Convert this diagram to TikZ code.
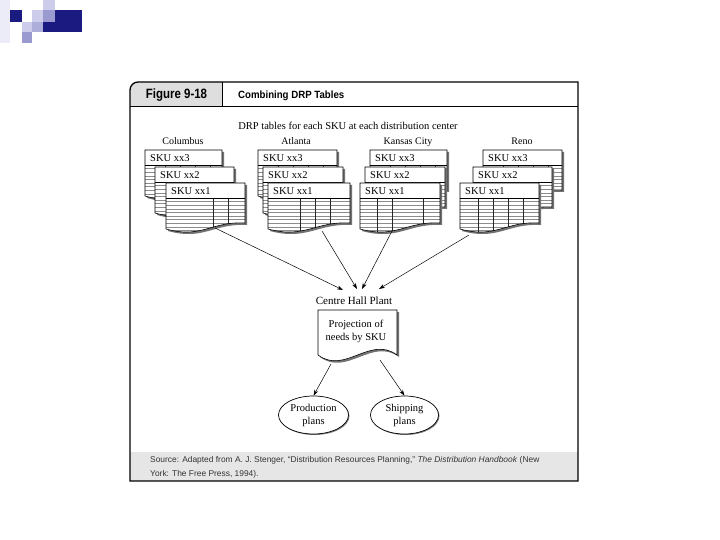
\documentclass[tikz,border=0pt]{standalone}
\usepackage{fontspec}
\setmainfont{Liberation Serif}
\newfontfamily\capsans{Liberation Sans}
\usetikzlibrary{shapes.geometric,arrows.meta,calc}
\definecolor{navy}{HTML}{1A1A80}
\definecolor{midlav}{HTML}{9A9AD0}
\definecolor{litlav}{HTML}{CDCDEB}
\definecolor{palelav}{HTML}{ECECF8}
\definecolor{headgray}{HTML}{DEDEDE}
\definecolor{footgray}{HTML}{E6E6E6}
\tikzset{
  hatch/.style={black!45,line width=0.4pt},
  vline/.style={black!85,line width=0.5pt},
  sheetline/.style={black,line width=0.6pt},
  skulabel/.style={anchor=west,inner sep=0pt,font=\fontsize{10.5}{12}\selectfont},
  citylabel/.style={anchor=base,inner sep=0pt,font=\fontsize{10}{12}\selectfont},
  flowarrow/.style={-{Stealth[length=6pt,width=4pt]},line width=0.5pt},
  plan/.style={ellipse,draw,line width=0.7pt,fill=white,inner sep=0pt,align=center,font=\fontsize{10.5}{13}\selectfont},
}
% #1 name of label, #2 x, #3 y, #4 width, #5 label, #6 vertical line offsets
\newcommand\drpsheet[6]{%
\begin{scope}[shift={(#2,#3)}]
  \fill[black!55] (2,2) -- (#4+2,2) -- (#4+2,42) .. controls (0.58*#4+2,40) and (0.45*#4+2,58) .. (2,48) -- cycle;
  \fill[white] (0,0) -- (#4,0) -- (#4,40) .. controls (0.58*#4,38) and (0.45*#4,56) .. (0,46) -- cycle;
  \begin{scope}
    \clip (0,0) -- (#4,0) -- (#4,40) .. controls (0.58*#4,38) and (0.45*#4,56) .. (0,46) -- cycle;
    \foreach \yy in {18.6,22.2,...,58} \draw[hatch] (0,\yy) -- (#4,\yy);
    \foreach \xx in {#6} \draw[vline] (\xx,15) -- (\xx,60);
  \end{scope}
  \draw[sheetline] (0,0) -- (#4,0) -- (#4,40) .. controls (0.58*#4,38) and (0.45*#4,56) .. (0,46) -- cycle;
  \draw[sheetline] (0,15) -- (#4,15);
  \node[skulabel] (#1) at (5,7.8) {#5};
\end{scope}}
\begin{document}
\begin{tikzpicture}[x=1pt,y=-1pt]
\useasboundingbox (0,0) rectangle (720,540);
\fill[white] (0,0) rectangle (720,540);
% decoration squares
\fill[palelav] (0,0) rectangle (10,43);
\fill[navy] (10,10) rectangle (22,22);
\fill[litlav] (22,22) rectangle (32,32);
\fill[midlav] (22,32) rectangle (32,43);
\fill[litlav] (32,10) rectangle (43,22);
\fill[midlav!80] (32,22) rectangle (43,32);
\fill[litlav] (43,0) rectangle (55,10);
\fill[midlav] (43,10) rectangle (55,22);
\fill[navy] (43,22) rectangle (82,32);
\fill[navy] (55,10) rectangle (82,22);
% frame
\fill[headgray] (130,107) -- (130,90) arc[start angle=180,end angle=270,radius=8] -- (222,82) -- (222,107) -- cycle;
\fill[footgray] (130,452) rectangle (578,481);
\draw[line width=1.3pt] (130,90) arc[start angle=180,end angle=270,radius=8] -- (578,82) -- (578,481) -- (130,481) -- cycle;
\draw[line width=1pt] (130,107) -- (578,107);
\draw[line width=1pt] (222,82) -- (222,107);
\node[inner sep=0pt] (fig) at (176.5,95) {\capsans\bfseries\fontsize{13.5}{14}\selectfont\scalebox{0.85}[1]{Figure 9-18}};
\node[inner sep=0pt,anchor=west] (title) at (238,95.5) {\capsans\bfseries\fontsize{10.5}{12}\selectfont\scalebox{0.92}[1]{Combining DRP Tables}};
\node[inner sep=0pt] (sub) at (348,126) {\fontsize{10.5}{12}\selectfont DRP tables for each SKU at each distribution center};
% city labels
\node[citylabel] (columbus) at (183,145) {Columbus};
\node[citylabel] (atlanta) at (296,145) {Atlanta};
\node[citylabel] (kansas) at (408,145) {Kansas City};
\node[citylabel] (reno) at (522,145) {Reno};
% stacks
\drpsheet{c3}{145}{150}{77}{SKU xx3}{20,35,50,65}
\drpsheet{c2}{155}{167}{79}{SKU xx2}{20,35,50,65}
\drpsheet{c1}{166}{183}{79}{SKU xx1}{47,62}
\drpsheet{a3}{258}{150}{79}{SKU xx3}{20,35,50,65}
\drpsheet{a2}{263}{167}{80}{SKU xx2}{20,35,50,65}
\drpsheet{a1}{268}{183}{82}{SKU xx1}{32,47,62}
\drpsheet{k3}{370}{150}{77}{SKU xx3}{20,35,50,65}
\drpsheet{k2}{365}{167}{80}{SKU xx2}{20,35,50,65}
\drpsheet{k1}{360}{183}{80}{SKU xx1}{17,32,63}
\drpsheet{r3}{483}{150}{79}{SKU xx3}{20,35,50,65}
\drpsheet{r2}{473}{167}{79}{SKU xx2}{20,35,50,65}
\drpsheet{r1}{460}{183}{79}{SKU xx1}{18,33,48,63}
% arrow endpoints
\coordinate (sc) at (215,228);
\coordinate (sa) at (322,231);
\coordinate (sk) at (392,231);
\coordinate (sr) at (469,235);
\coordinate (tc) at (343,290);
\coordinate (ta) at (357,289);
\coordinate (tk) at (362,289);
\coordinate (tr) at (379,289);
\draw[flowarrow] (sc) -- (tc);
\draw[flowarrow] (sa) -- (ta);
\draw[flowarrow] (sk) -- (tk);
\draw[flowarrow] (sr) -- (tr);
% plant
\node[inner sep=0pt,font=\fontsize{11}{12}\selectfont] (chp) at (354,301) {Centre Hall Plant};
\fill[black!55] (320,312) -- (399,312) -- (399,357) .. controls (372,337) and (347,377) .. (320,357) -- cycle;
\filldraw[fill=white,draw=black,line width=0.6pt] (318,310) -- (397,310) -- (397,355) .. controls (370,335) and (345,375) .. (318,355) -- cycle;
\node[inner sep=0pt,align=center,font=\fontsize{10.5}{13}\selectfont] (proj) at (356,331) {Projection of\\needs by SKU};
\coordinate (dl) at (331,364);
\coordinate (dr) at (380,360);
% plans
\fill[black!50] (314.5,416) ellipse[x radius=35,y radius=19];
\fill[black!50] (405.5,416) ellipse[x radius=34,y radius=19];
\node[plan,minimum width=70pt,minimum height=38pt] (prod) at (313.5,415) {Production\\plans};
\node[plan,minimum width=68pt,minimum height=38pt] (ship) at (404.5,415) {Shipping\\plans};
\draw[flowarrow] (dl) -- (prod.north);
\draw[flowarrow] (dr) -- (ship.north);
% source
\node[inner sep=0pt,anchor=north west,align=left,text=black!80,font=\capsans\fontsize{8.4}{14}\selectfont] (src) at (150,456) {Source: Adapted from A. J. Stenger, “Distribution Resources Planning,” \textit{The Distribution Handbook} (New\\York: The Free Press, 1994).};
\end{tikzpicture}
\end{document}
